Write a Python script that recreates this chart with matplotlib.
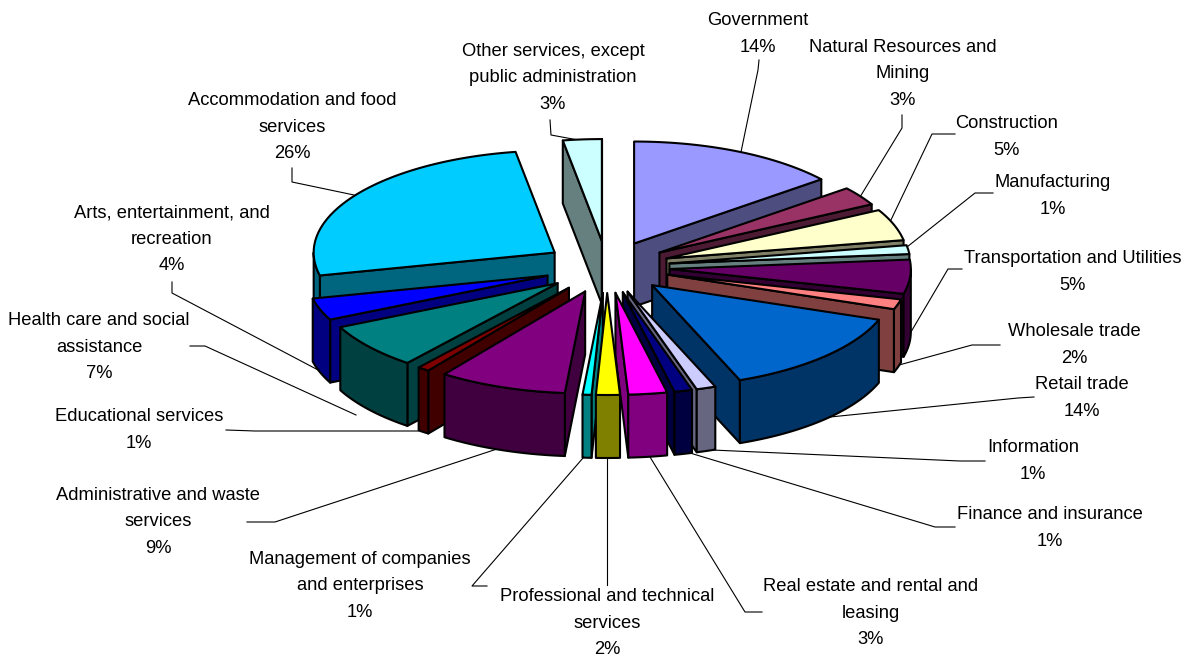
import numpy as np
import matplotlib
matplotlib.use('Agg')
import matplotlib.pyplot as plt
from matplotlib.colors import to_rgb
from matplotlib.patches import Polygon

plt.rcParams['font.family'] = ['Liberation Sans', 'DejaVu Sans']

# clockwise from 12 o'clock
sectors = ['Government', 'Natural Resources and\nMining', 'Construction', 'Manufacturing',
           'Transportation and Utilities', 'Wholesale trade', 'Retail trade', 'Information',
           'Finance and insurance', 'Real estate and rental and\nleasing',
           'Professional and technical\nservices', 'Management of companies\nand enterprises',
           'Administrative and waste\nservices', 'Educational services',
           'Health care and social\nassistance', 'Arts, entertainment, and\nrecreation',
           'Accommodation and food\nservices', 'Other services, except\npublic administration']
shares = [14.2, 3.0, 5.0, 1.4, 5.4, 1.6, 13.6, 1.3, 1.2, 2.6, 1.6, 0.6, 8.6, 0.8, 7.2, 3.5, 26.1, 2.6]
colors = ['#9999FF', '#993366', '#FFFFCC', '#CCFFFF', '#660066', '#FF8080', '#0066CC', '#CCCCFF',
          '#000080', '#FF00FF', '#FFFF00', '#00FFFF', '#800080', '#800000', '#008080', '#0000FF',
          '#00CCFF', '#CCFFFF']

# label centres and leader lines, in picture pixels
label_pos = [(758, 34), (903, 74), (1007, 137), (1053, 196), (1073, 272), (1074, 345), (1082, 398),
             (1033, 461), (1050, 528), (871, 613), (607, 623), (360, 586), (158, 522), (139, 430),
             (99, 347), (172, 239), (292, 127), (553, 78)]
leaders = [[(759, 60), (758, 70), (741, 152)],
           [(902, 115), (902, 128), (860, 197)],
           [(955, 134), (932, 134), (890, 222)],
           [(993, 193), (975, 193), (907, 247)],
           [(962, 269), (948, 269), (908, 337)],
           [(1000, 345), (972, 345), (899, 365)],
           [(1034, 397), (1018, 398), (830, 417)],
           [(985, 461), (960, 461), (712, 450)],
           [(955, 527), (935, 527), (690, 453)],
           [(762, 612), (745, 612), (650, 457)],
           [(607, 585), (607, 581), (607, 456)],
           [(487, 586), (472, 586), (583, 458)],
           [(247, 522), (275, 522), (497, 449)],
           [(226, 430), (255, 431), (418, 431)],
           [(190, 346), (205, 346), (356, 415)],
           [(172, 282), (172, 293), (320, 371)],
           [(292, 168), (292, 182), (354, 195)],
           [(550, 120), (551, 135), (578, 140)]]

cx, cy = 607, 267      # pie centre
rx, ry = 241, 102      # top ellipse
ex, ey = 63, 26        # explosion
depth = 63


def darker(c):
    return tuple(0.5*v for v in to_rgb(c))


def point(th, r, x0, y0):
    return (x0+r*rx*np.sin(th), y0-r*ry*np.cos(th))


def drop(pts):
    return [(x, y+depth) for x, y in pts]


def draw_poly(ax, pts, color, z):
    ax.add_patch(Polygon(pts, closed=True, facecolor=color, edgecolor='black',
                         linewidth=1.5, joinstyle='round', zorder=z))


def draw_slice(ax, th1, th2, color, z):
    mid = 0.5*(th1+th2)
    x0 = cx+ex*np.sin(mid)
    y0 = cy-ey*np.cos(mid)
    side = darker(color)
    apex = (x0, y0)
    # radial cut faces, only those turned to the viewer
    if np.sin(th1) < 0:
        edge = [apex, point(th1, 1, x0, y0)]
        draw_poly(ax, edge+drop(edge)[::-1], side, z)
    if np.sin(th2) > 0:
        edge = [apex, point(th2, 1, x0, y0)]
        draw_poly(ax, edge+drop(edge)[::-1], side, z)
    # outer rim, front half only
    lo, hi = max(th1, np.pi/2), min(th2, 1.5*np.pi)
    if hi > lo:
        rim = [point(t, 1, x0, y0) for t in np.linspace(lo, hi, 60)]
        draw_poly(ax, rim+drop(rim)[::-1], side, z)
    arc = [point(t, 1, x0, y0) for t in np.linspace(th1, th2, 80)]
    draw_poly(ax, [apex]+arc, color, z)


fig = plt.figure(figsize=(11.88, 6.58), dpi=100)
ax = fig.add_axes([0, 0, 1, 1])
ax.set_xlim(0, 1188)
ax.set_ylim(658, 0)
ax.axis('off')

edges = np.cumsum([0]+shares)/np.sum(shares)*2*np.pi
mids = 0.5*(edges[:-1]+edges[1:])

for line in leaders:
    ax.plot([p[0] for p in line], [p[1] for p in line], color='black', lw=0.8, zorder=1)

# back to front
order = np.argsort(-np.cos(mids))
for k, i in enumerate(order):
    draw_slice(ax, edges[i], edges[i+1], colors[i], 2+k)

for name, val, pos in zip(sectors, shares, label_pos):
    ax.text(pos[0], pos[1], name+'\n'+str(int(round(val)))+'%', ha='center', va='center',
            multialignment='center', fontsize=13.2, linespacing=1.73, color='black', zorder=50)

fig.savefig('out.png', dpi=100)
